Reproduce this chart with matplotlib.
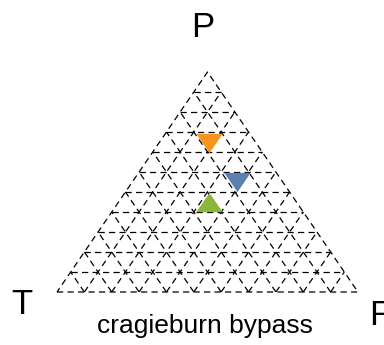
import matplotlib
matplotlib.use("Agg")
import matplotlib.pyplot as plt

plt.rcParams['font.family'] = ['Liberation Sans', 'DejaVu Sans']

# ternary values (P, T, F) of the three points
p_vals = [0.677, 0.50, 0.407]
t_vals = [0.157, 0.152, 0.293]
f_vals = [0.166, 0.348, 0.300]
kinds = ['down', 'down', 'up']
colors = ['#f7941d', '#5b7fae', '#8ab63a']
title = 'cragieburn bypass'
n_div = 11

def to_xy(p, t, f):
    s = p + t + f
    return f / s + 0.5 * p / s, p / s

fig = plt.figure(figsize=(3.84, 3.45), dpi=100)
ax = fig.add_axes([57 / 384, 1 - 292 / 345, 301 / 384, 220 / 345])
ax.set_xlim(0, 1)
ax.set_ylim(0, 1)
ax.axis('off')

dash = dict(color='black', lw=0.9, linestyle=(0, (5, 3.4)), zorder=1)

# outer triangle
corners = [to_xy(0, 1, 0), to_xy(0, 0, 1), to_xy(1, 0, 0), to_xy(0, 1, 0)]
ax.plot([c[0] for c in corners], [c[1] for c in corners], clip_on=False, **dash)

# grid lines
for i in range(1, n_div):
    v = i / n_div
    a = to_xy(v, 1 - v, 0); b = to_xy(v, 0, 1 - v)
    ax.plot([a[0], b[0]], [a[1], b[1]], **dash)
    a = to_xy(0, 1 - v, v); b = to_xy(1 - v, 0, v)
    ax.plot([a[0], b[0]], [a[1], b[1]], **dash)
    a = to_xy(0, v, 1 - v); b = to_xy(1 - v, v, 0)
    ax.plot([a[0], b[0]], [a[1], b[1]], **dash)

h = 19 / 26
down = [(-1, h), (1, h), (0, -h), (-1, h)]
up = [(-1, -h), (1, -h), (0, h), (-1, -h)]
for p, t, f, k, c in zip(p_vals, t_vals, f_vals, kinds, colors):
    x, y = to_xy(p, t, f)
    ax.plot([x], [y], marker=down if k == 'down' else up, markersize=19,
            color=c, markeredgewidth=0, linestyle='none', zorder=3)

fig.text(203 / 384, 1 - 37 / 345, 'P', fontsize=25, ha='center', va='baseline')
fig.text(22 / 384, 1 - 314 / 345, 'T', fontsize=25, ha='center', va='baseline')
fig.text(369 / 384, 1 - 325 / 345, 'F', fontsize=25, ha='left', va='baseline')
fig.text(205 / 384, 1 - 333 / 345, title, fontsize=19, ha='center', va='baseline')

fig.savefig('out.png', dpi=100)
